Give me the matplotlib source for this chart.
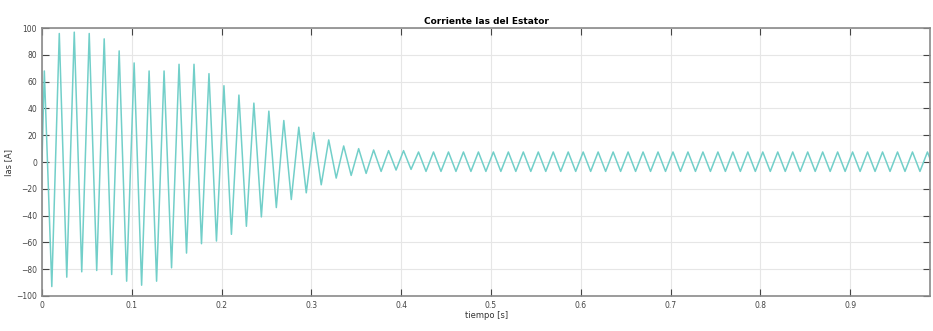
import numpy as np
import matplotlib
matplotlib.use("Agg")
import matplotlib.pyplot as plt

# peak values of each cycle (A)
pos_peaks = [68, 96, 97, 96, 92, 83, 74, 68, 68, 73, 73, 66, 57, 50, 44, 38,
             31, 26, 22, 16.5, 12, 10, 9, 8.5, 8.5]
neg_peaks = [-93, -86, -82, -81, -84, -89, -92, -89, -79, -68, -61, -59, -54,
             -48, -41, -34, -28, -23, -17, -12, -10, -8.5, -7, -6, -5.5]
steady_pos = [7.5] * 35
steady_neg = [-7.0] * 35

f_red = 60.0        # Hz
t_first = 0.0026    # time of first positive peak (s)

x_ticks = [0, 0.1, 0.2, 0.3, 0.4, 0.5, 0.6, 0.7, 0.8, 0.9]
x_tick_labels = ["0", "0.1", "0.2", "0.3", "0.4", "0.5", "0.6", "0.7", "0.8", "0.9"]
y_ticks = [-100, -80, -60, -40, -20, 0, 20, 40, 60, 80, 100]

# interleave positive / negative extremes
p = pos_peaks + steady_pos
n = neg_peaks + steady_neg
ext = [0.0]
for a, b in zip(p, n):
    ext += [a, b]
ext = np.array(ext)
t = np.concatenate([[0.0], t_first + np.arange(len(ext) - 1) / (2 * f_red)])

fig = plt.figure(figsize=(9.33, 3.31), dpi=100)
ax = fig.add_axes([0.045, 0.106, 0.952, 0.809])

ax.plot(t, ext, color="#72cfc9", lw=1.1)

ax.set_xlim(0, 0.989)
ax.set_ylim(-100, 100)
ax.set_xticks(x_ticks)
ax.set_xticklabels(x_tick_labels)
ax.set_yticks(y_ticks)
ax.grid(True, color="#e6e6e6", lw=0.8)
ax.tick_params(direction="in", length=5, width=0.8, labelsize=5.5, colors="#444444",
               top=True, right=True)
for s in ax.spines.values():
    s.set_color("#8a8a8a")
    s.set_linewidth(1.2)

ax.set_title("Corriente Ias del Estator", fontsize=6.5, fontweight="bold", pad=3)
ax.set_xlabel("tiempo [s]", fontsize=6, labelpad=1, color="#333333")
ax.set_ylabel("Ias [A]", fontsize=6, labelpad=2, color="#333333")

fig.savefig("out.png", dpi=100)
